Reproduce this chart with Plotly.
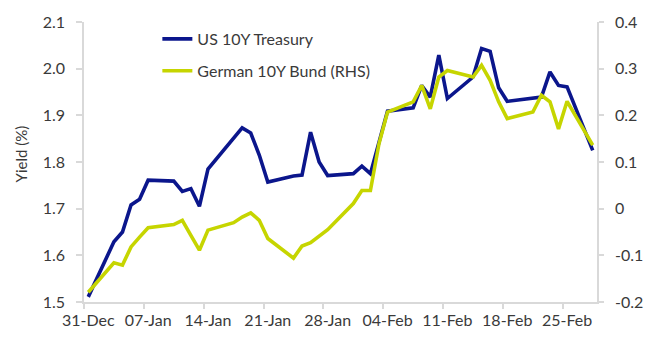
import pandas as pd
import plotly.graph_objects as go

dates = ["2021-12-31",
         "2022-01-03", "2022-01-04", "2022-01-05", "2022-01-06", "2022-01-07",
         "2022-01-10", "2022-01-11", "2022-01-12", "2022-01-13", "2022-01-14",
         "2022-01-17", "2022-01-18", "2022-01-19", "2022-01-20", "2022-01-21",
         "2022-01-24", "2022-01-25", "2022-01-26", "2022-01-27", "2022-01-28",
         "2022-01-31", "2022-02-01", "2022-02-02", "2022-02-03", "2022-02-04",
         "2022-02-07", "2022-02-08", "2022-02-09", "2022-02-10", "2022-02-11",
         "2022-02-14", "2022-02-15", "2022-02-16", "2022-02-17", "2022-02-18",
         "2022-02-21", "2022-02-22", "2022-02-23", "2022-02-24", "2022-02-25",
         "2022-02-28"]

us_10y = [1.511,
          1.629, 1.650, 1.708, 1.720, 1.761,
          1.759, 1.737, 1.743, 1.705, 1.785,
          None, 1.873, 1.862, 1.815, 1.757,
          1.770, 1.772, 1.864, 1.800, 1.771,
          1.775, 1.791, 1.775, 1.840, 1.909,
          1.916, 1.964, 1.939, 2.029, 1.936,
          1.982, 2.043, 2.037, 1.959, 1.930,
          None, 1.939, 1.993, 1.964, 1.961,
          1.825]

de_10y = [-0.179,
          -0.116, -0.121, -0.082, -0.061, -0.041,
          -0.034, -0.025, -0.057, -0.089, -0.046,
          -0.030, -0.018, -0.009, -0.025, -0.064,
          -0.106, -0.080, -0.073, -0.059, -0.045,
          0.011, 0.039, 0.039, 0.139, 0.207,
          0.229, 0.264, 0.214, 0.282, 0.296,
          0.282, 0.307, 0.275, 0.229, 0.193,
          0.207, 0.243, 0.229, 0.171, 0.230,
          0.136]

tick_dates = ["2021-12-31", "2022-01-07", "2022-01-14", "2022-01-21", "2022-01-28",
              "2022-02-04", "2022-02-11", "2022-02-18", "2022-02-25"]
tick_labels = ["31-Dec", "07-Jan", "14-Jan", "21-Jan", "28-Jan",
               "04-Feb", "11-Feb", "18-Feb", "25-Feb"]

left_ticks = [1.5, 1.6, 1.7, 1.8, 1.9, 2.0, 2.1]
left_labels = ["1.5", "1.6", "1.7", "1.8", "1.9", "2.0", "2.1"]
right_ticks = [-0.2, -0.1, 0.0, 0.1, 0.2, 0.3, 0.4]
right_labels = ["-0.2", "-0.1", "0", "0.1", "0.2", "0.3", "0.4"]

x = pd.to_datetime(dates)
half_day = pd.Timedelta(hours=12)
tick_x = pd.to_datetime(tick_dates)
boundary_x = tick_x - half_day

BLUE = "#0b168c"
GREEN = "#c6d500"
TEXT = "#3a3a3a"
AXIS = "#d9d9d9"
FONT = "Lato"
FS = 16

fig = go.Figure()
fig.add_trace(go.Scatter(x=x, y=us_10y, name="US 10Y Treasury", mode="lines",
                         line=dict(color=BLUE, width=3.6), connectgaps=True,
                         legendgroup="a"))
fig.add_trace(go.Scatter(x=x, y=de_10y, name="German 10Y Bund (RHS)", mode="lines",
                         line=dict(color=GREEN, width=3.6), connectgaps=True,
                         yaxis="y2", legendgroup="b"))

fig.update_layout(
    width=655, height=351,
    margin=dict(l=84, r=51.7, t=20, b=49.3),
    paper_bgcolor="white", plot_bgcolor="white",
    font=dict(family=FONT, size=FS, color=TEXT),
    showlegend=True,
    legend=dict(x=0.143, y=1.0, xanchor="left", yanchor="top",
                bgcolor="rgba(0,0,0,0)", borderwidth=0,
                font=dict(family=FONT, size=FS, color=TEXT),
                tracegroupgap=8, itemwidth=30),
    xaxis=dict(
        type="date",
        range=[x[0] - half_day, x[-1] + half_day],
        tickmode="array", tickvals=tick_x, ticktext=tick_labels,
        ticks="", showgrid=False, zeroline=False,
        showline=True, linecolor=AXIS, linewidth=1.5,
        tickfont=dict(family=FONT, size=FS, color=TEXT),
        ticklabelstandoff=3,
        minor=dict(tickmode="array", tickvals=boundary_x, ticks="outside",
                   ticklen=5, tickcolor=AXIS, tickwidth=1.5, showgrid=False),
    ),
    yaxis=dict(
        range=[1.5, 2.1], tickmode="array", tickvals=left_ticks, ticktext=left_labels,
        ticks="outside", ticklen=6, tickcolor=AXIS, tickwidth=1.5,
        showgrid=False, zeroline=False, showline=True, linecolor=AXIS, linewidth=1.5,
        tickfont=dict(family=FONT, size=FS, color=TEXT),
        ticklabelstandoff=8,
    ),
    yaxis2=dict(
        range=[-0.2, 0.4], overlaying="y", side="right",
        tickmode="array", tickvals=right_ticks, ticktext=right_labels,
        ticks="outside", ticklen=5, tickcolor=AXIS, tickwidth=1.5,
        showgrid=False, zeroline=False, showline=True, linecolor=AXIS, linewidth=1.5,
        tickfont=dict(family=FONT, size=FS, color=TEXT),
        ticklabelstandoff=8,
    ),
    annotations=[dict(text="Yield (%)", textangle=-90, xref="paper", yref="paper",
                      x=-(84 - 20) / 519.3, y=(301.7 - 152.5) / 281.7,
                      xanchor="center", yanchor="middle", showarrow=False,
                      font=dict(family=FONT, size=15, color=TEXT))],
)

fig.write_html("out.html")
